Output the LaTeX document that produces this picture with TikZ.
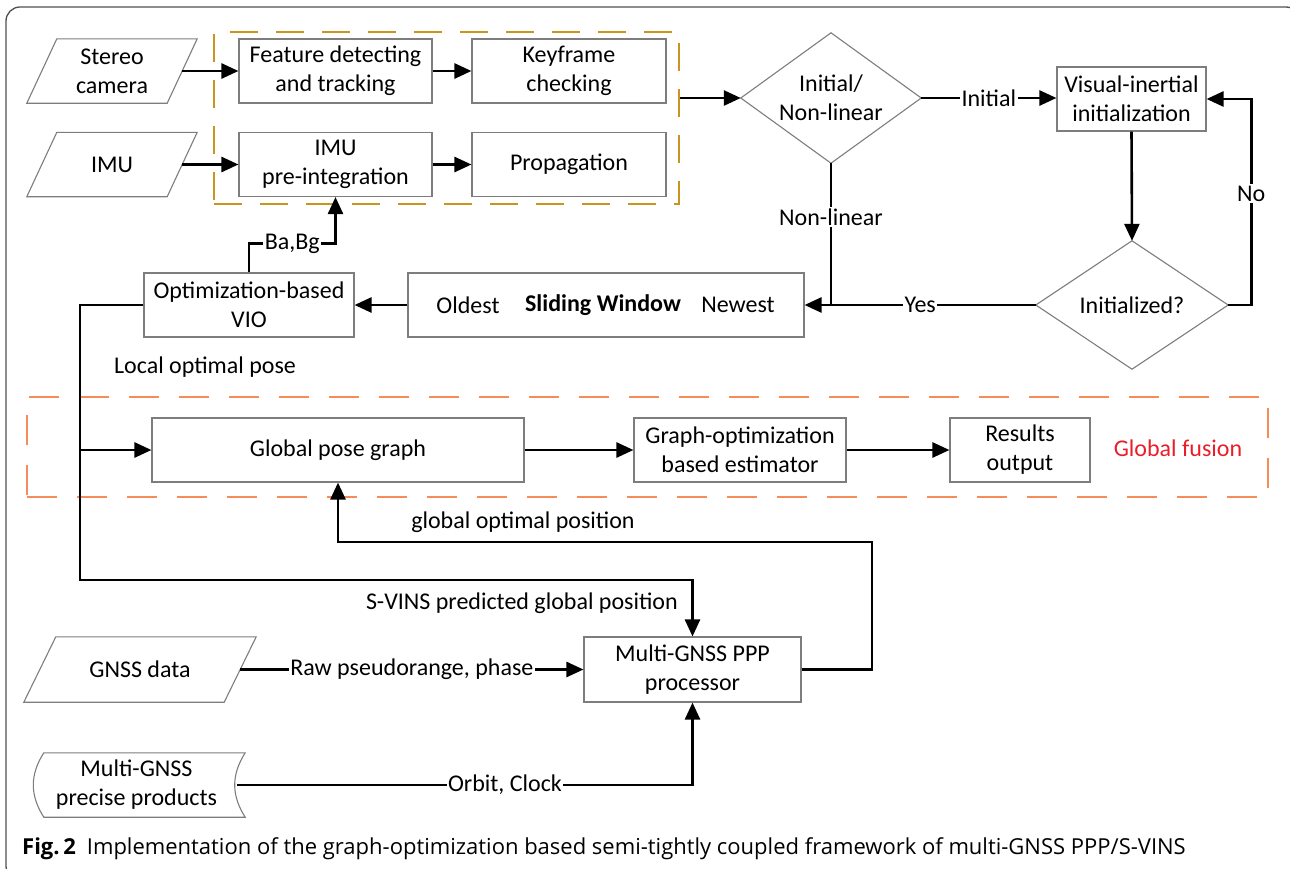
\documentclass[tikz,border=0pt]{standalone}
\usepackage{fontspec}
\setmainfont{Carlito}
\newfontfamily\capfont{Open Sans}
\usetikzlibrary{arrows.meta,calc}
\definecolor{boxgray}{RGB}{125,125,125}
\definecolor{dashyellow}{RGB}{200,150,30}
\definecolor{dashorange}{RGB}{245,140,90}
\definecolor{fusionred}{RGB}{232,30,40}
\definecolor{framegray}{RGB}{80,80,80}
\begin{document}
\begin{tikzpicture}[x=1pt,y=-1pt,
  font=\fontsize{24}{29}\selectfont,
  box/.style={draw=boxgray,line width=1.1pt,fill=white,minimum height=64pt,inner sep=0pt,align=center},
  para/.style={minimum height=64pt,inner sep=0pt,align=center},
  dia/.style={inner sep=0pt,align=center},
  pshape/.style={draw=boxgray,line width=1.1pt},
  conn/.style={line width=2.6pt,-{Triangle[length=17pt,width=15pt]}},
  line/.style={line width=2.6pt},
  lbl/.style={fill=white,inner sep=1.5pt},
  txt/.style={inner sep=0pt}]
\useasboundingbox (0,0) rectangle (1290,868);
\clip (0,0) rectangle (1290,868);
\draw[framegray,line width=1.3pt,rounded corners=14pt] (6,7) rectangle (1300,880);

% dashed groups
\node[draw=dashyellow,line width=2.6pt,dash pattern=on 28pt off 18pt,minimum width=465pt,minimum height=172pt,inner sep=0pt] (ybox) at (446.5,118) {};
\node[draw=dashorange,line width=2.6pt,dash pattern=on 30pt off 20pt,minimum width=1241pt,minimum height=100pt,inner sep=0pt] (obox) at (647.5,447) {};

% inputs
\node[para,minimum width=140pt] (stereo) at (112,71) {Stereo\\camera};
\draw[pshape] ($(stereo.south west)+(-15,0)$) -- ($(stereo.north west)+(15,0)$) -- ($(stereo.north east)+(15,0)$) -- ($(stereo.south east)+(-15,0)$) -- cycle;
\node[para,minimum width=140pt] (imu) at (112,164.5) {IMU};
\draw[pshape] ($(imu.south west)+(-15,0)$) -- ($(imu.north west)+(15,0)$) -- ($(imu.north east)+(15,0)$) -- ($(imu.south east)+(-15,0)$) -- cycle;

% front end
\node[box,minimum width=193pt] (feat) at (335.5,71) {Feature detecting\\and tracking};
\node[box,minimum width=194pt] (key) at (569,71) {Keyframe\\checking};
\node[box,minimum width=193pt] (pre) at (335.5,164.5) {IMU\\pre-integration};
\node[box,minimum width=194pt] (prop) at (569,164.5) {Propagation};

% decisions
\node[dia,minimum width=180pt,minimum height=130pt] (d1) at (831,98) {Initial/\\Non-linear};
\draw[pshape] (d1.west) -- (d1.north) -- (d1.east) -- (d1.south) -- cycle;
\node[box,minimum width=149pt] (vi) at (1131.5,99) {Visual-inertial\\initialization};
\node[dia,minimum width=192pt,minimum height=128pt] (d2) at (1132,305) {Initialized?};
\draw[pshape] (d2.west) -- (d2.north) -- (d2.east) -- (d2.south) -- cycle;

% sliding window and VIO
\node[box,minimum width=396pt] (sw) at (606,305) {};
\node[txt] (old) at (468,305) {Oldest};
\node[txt,font=\fontsize{24}{29}\selectfont\bfseries] (slw) at (603,305) {Sliding Window};
\node[txt] (new) at (738,305) {Newest};
\node[box,minimum width=210pt] (vio) at (249,305) {Optimization-based\\VIO};
\node[txt] (lop) at (205,367) {Local optimal pose};

% global fusion
\node[box,minimum width=372pt] (gpg) at (338,450) {Global pose graph};
\node[box,minimum width=212pt] (est) at (740,450) {Graph-optimization\\based estimator};
\node[box,minimum width=140pt] (res) at (1020,450) {Results\\output};
\node[txt,text=fusionred] (gf) at (1178,448) {Global fusion};

% GNSS
\node[box,minimum width=217pt,minimum height=65pt] (ppp) at (692.5,669.5) {Multi-GNSS PPP\\processor};
\node[para,minimum width=200pt,minimum height=65pt] (gnss) at (140,669.5) {GNSS data};
\draw[pshape] ($(gnss.south west)+(-16,0)$) -- ($(gnss.north west)+(16,0)$) -- ($(gnss.north east)+(16,0)$) -- ($(gnss.south east)+(-16,0)$) -- cycle;
\node[para,minimum width=201pt,minimum height=64pt] (pp) at (136.5,785) {Multi-GNSS\\precise products};
\draw[pshape] ($(pp.north west)+(8,0)$) -- ($(pp.north east)+(8,0)$)
  .. controls ($(pp.north east)+(-6,22)$) and ($(pp.south east)+(-6,-22)$) .. ($(pp.south east)+(8,0)$)
  -- ($(pp.south west)+(8,0)$)
  .. controls ($(pp.south west)+(-6,-22)$) and ($(pp.north west)+(-6,22)$) .. cycle;
\node[txt] (gop) at (523,522) {global optimal position};
\node[txt,anchor=east] (svins) at (678,603) {S-VINS predicted global position};

% connectors
\draw[conn] (stereo.east) -- (feat.west);
\draw[conn] (feat.east) -- (key.west);
\draw[conn] (imu.east) -- (pre.west);
\draw[conn] (pre.east) -- (prop.west);
\draw[conn] (ybox.east |- d1.west) -- (d1.west);
\draw[conn] (d1.east) -- node[lbl]{Initial} (vi.west |- d1.east);
\draw[conn] (vi.south) -- (d2.north);
\draw[conn] (d2.east) -- ++(23,0) |- node[lbl,pos=0.27]{No} (vi.east);
\draw[conn] (d2.west) -- node[lbl]{Yes} (sw.east);
\draw[line] (d1.south) -- node[lbl,pos=0.38]{Non-linear} (d1.south |- sw.east);
\draw[conn] (sw.west) -- (vio.east);
\draw[conn] (vio.north) -- ++(0,-29) -| node[lbl,pos=0.25]{Ba,Bg} (pre.south);
\coordinate (b1) at (80,580);
\draw[conn] (vio.west) -| (b1) -| (ppp.north);
\draw[conn] (gpg.west -| b1) -- (gpg.west);
\draw[conn] (gpg.east) -- (est.west);
\draw[conn] (est.east) -- (res.west);
\coordinate (g1) at (872,542);
\draw[conn] (ppp.east) -| (g1) -| (gpg.south);
\draw[conn] (gnss.east) -- node[lbl]{Raw pseudorange, phase} (ppp.west);
\draw[conn] (pp.east) -| node[lbl,pos=0.294]{Orbit, Clock} (ppp.south);

% caption
\node[txt,anchor=west,font=\capfont\fontsize{22}{26}\selectfont] (cap) at (22,849) {\textbf{Fig.\,2}\hspace{11pt}Implementation of the graph-optimization based semi-tightly coupled framework of multi-GNSS PPP/S-VINS};
\end{tikzpicture}
\end{document}
